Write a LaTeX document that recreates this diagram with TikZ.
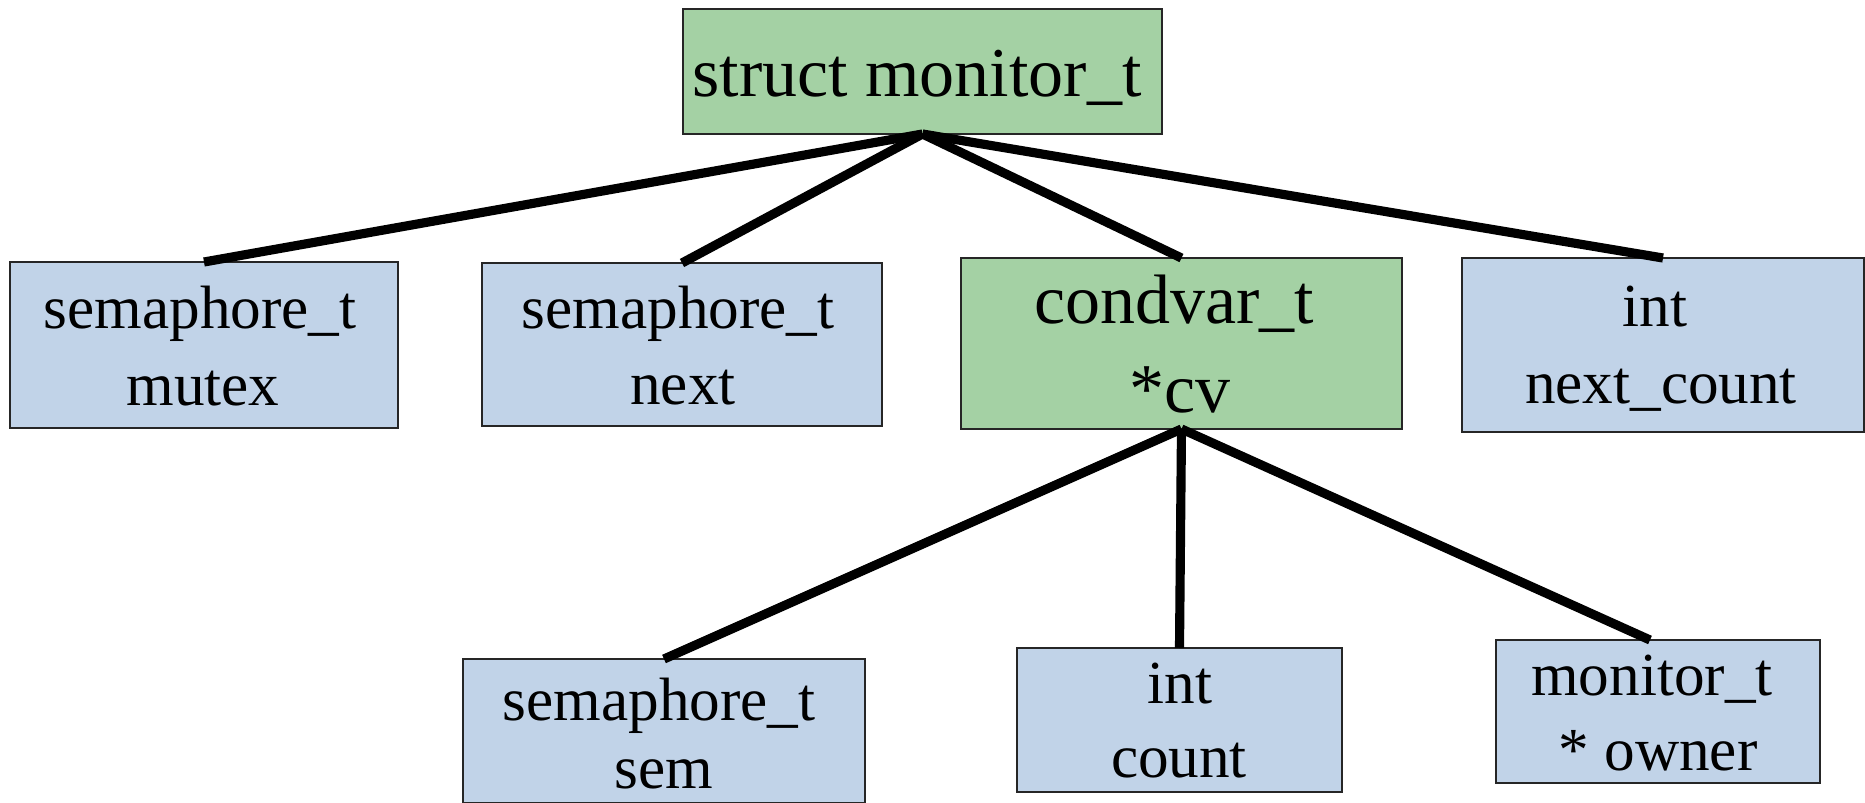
\documentclass[tikz,border=0pt]{standalone}
\usepackage{fontspec}
\setmainfont{Liberation Serif}
\usetikzlibrary{fit}
\definecolor{boxgreen}{HTML}{A4D1A4}
\definecolor{boxblue}{HTML}{C1D3E8}
\begin{document}
\begin{tikzpicture}[x=0.01cm,y=-0.01cm,
  box/.style={draw=black!85,line width=0.6pt,inner sep=0pt,outer sep=0pt},
  gbox/.style={box,fill=boxgreen},
  bbox/.style={box,fill=boxblue},
  txt/.style={anchor=base,inner sep=0pt,font=\fontsize{17.4}{20}\selectfont},
  bigtxt/.style={anchor=base,inner sep=0pt,font=\fontsize{19.9}{23}\selectfont},
  conn/.style={line width=2.6pt}]
\useasboundingbox (0,0) rectangle (1865,803);
% boxes
\node[gbox, fit={(683,9) (1162,134)}] (top) {};
\node[bbox, fit={(10,262) (398,428)}] (mutex) {};
\node[bbox, fit={(482,263) (882,426)}] (next) {};
\node[gbox, fit={(961,258) (1402,429)}] (cv) {};
\node[bbox, fit={(1462,258) (1864,432)}] (ncount) {};
\node[bbox, fit={(463,659) (865,803)}] (sem) {};
\node[bbox, fit={(1017,648) (1342,792)}] (count) {};
\node[bbox, fit={(1496,640) (1820,783)}] (owner) {};
% connectors
\draw[conn] (top.south) -- (mutex.north);
\draw[conn] (top.south) -- (next.north);
\draw[conn] (top.south) -- (cv.north);
\draw[conn] (top.south) -- (ncount.north);
\draw[conn] (cv.south) -- (sem.north);
\draw[conn] (cv.south) -- (count.north);
\draw[conn] (cv.south) -- ([xshift=-8*0.01cm]owner.north);
% texts
\node[bigtxt] (t0) at (917,97) {struct monitor\_t};
\node[txt] (t1a) at (200,328) {semaphore\_t};
\node[txt] (t1b) at (203,405) {mutex};
\node[txt] (t2a) at (678,328) {semaphore\_t};
\node[txt] (t2b) at (683,404) {next};
\node[bigtxt] (t3a) at (1174,323) {condvar\_t};
\node[bigtxt] (t3b) at (1180,412) {*cv};
\node[txt] (t4a) at (1655,327) {int};
\node[txt] (t4b) at (1661,403) {next\_count};
\node[txt] (t5a) at (659,720) {semaphore\_t};
\node[txt] (t5b) at (664,788) {sem};
\node[txt] (t6a) at (1180,703) {int};
\node[txt] (t6b) at (1179,777) {count};
\node[txt] (t7a) at (1652,695) {monitor\_t};
\node[txt] (t7b) at (1658,770) {* owner};
\end{tikzpicture}
\end{document}
